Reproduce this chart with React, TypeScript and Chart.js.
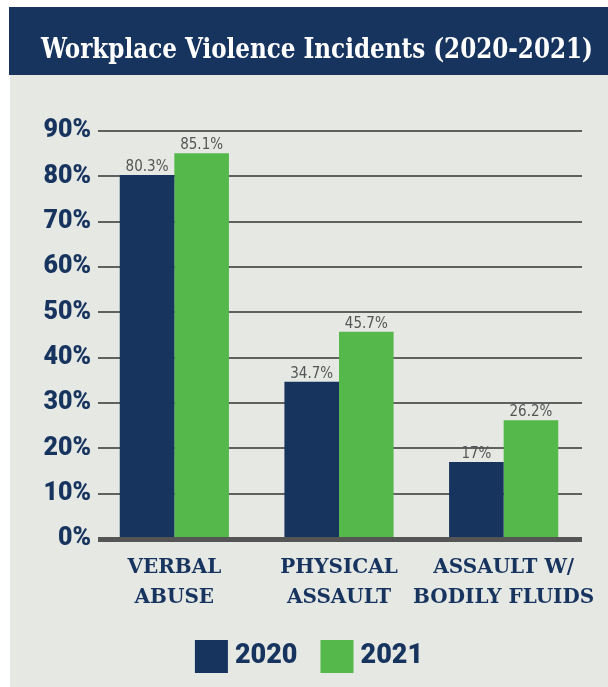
import { useEffect, useRef } from 'react';
import { Chart, registerables } from 'chart.js';

Chart.register(...registerables);

const titleText = 'Workplace Violence Incidents (2020-2021)';
const categories = [
  ['VERBAL', 'ABUSE'],
  ['PHYSICAL', 'ASSAULT'],
  ['ASSAULT W/', 'BODILY FLUIDS'],
];
const seriesNames = ['2020', '2021'];
const values2020 = [80.3, 34.7, 17];
const values2021 = [85.1, 45.7, 26.2];
const yMin = 0;
const yMax = 90;
const yStep = 10;

const NAVY = '#17345f';
const GREEN = '#55b84a';
const PANEL = '#e6e8e4';
const GRID = '#606060';

const decorPlugin = {
  id: 'decor',
  beforeDraw(chart: any) {
    const ctx = chart.ctx;
    ctx.save();
    ctx.fillStyle = '#ffffff';
    ctx.fillRect(0, 0, chart.width, chart.height);
    ctx.fillStyle = NAVY;
    ctx.fillRect(9, 7, chart.width - 9, 68);
    ctx.fillStyle = PANEL;
    ctx.fillRect(10, 75, chart.width - 10, chart.height - 75);
    ctx.fillStyle = '#ffffff';
    ctx.font = 'bold 27px "DejaVu Serif Condensed", "DejaVu Serif", serif';
    ctx.textAlign = 'center';
    ctx.textBaseline = 'alphabetic';
    const w = ctx.measureText(titleText).width;
    const target = 552;
    const sx = w > target ? target / w : 1;
    ctx.translate(317, 58);
    ctx.scale(sx, 1);
    ctx.fillText(titleText, 0, 0);
    ctx.restore();
  },
  beforeDatasetsDraw(chart: any) {
    const ctx = chart.ctx;
    const y = chart.scales.y;
    ctx.save();
    ctx.strokeStyle = GRID;
    ctx.lineWidth = 2;
    y.ticks.forEach((t: any) => {
      if (t.value === 0) return;
      const py = Math.round(y.getPixelForValue(t.value));
      ctx.beginPath();
      ctx.moveTo(98, py);
      ctx.lineTo(582, py);
      ctx.stroke();
    });
    ctx.restore();
  },
  afterDatasetsDraw(chart: any) {
    const ctx = chart.ctx;
    const y = chart.scales.y;
    ctx.save();
    // baseline
    ctx.strokeStyle = '#555555';
    ctx.lineWidth = 5;
    const py = y.getPixelForValue(0) + 0.5;
    ctx.beginPath();
    ctx.moveTo(98, py);
    ctx.lineTo(582, py);
    ctx.stroke();
    // value labels
    ctx.fillStyle = '#555555';
    ctx.font = '15px "Liberation Sans Narrow", "DejaVu Sans Condensed", sans-serif';
    ctx.textAlign = 'center';
    ctx.textBaseline = 'alphabetic';
    chart.data.datasets.forEach((ds: any, di: number) => {
      const meta = chart.getDatasetMeta(di);
      meta.data.forEach((bar: any, i: number) => {
        ctx.fillText(String(ds.data[i]) + '%', bar.x, bar.y - 4);
      });
    });
    // legend
    ctx.font = '900 27px Roboto, sans-serif';
    ctx.textBaseline = 'middle';
    ctx.textAlign = 'left';
    const box = 33;
    const gap = 7;
    const between = 23;
    const items = chart.data.datasets.map((ds: any) => ({
      label: ds.label,
      color: ds.backgroundColor,
      w: ctx.measureText(ds.label).width,
    }));
    let total = 0;
    items.forEach((it: any, i: number) => {
      total += box + gap + it.w + (i > 0 ? between : 0);
    });
    let x = 309 - total / 2;
    items.forEach((it: any) => {
      ctx.fillStyle = it.color;
      ctx.fillRect(x, 640, box, box);
      ctx.fillStyle = NAVY;
      ctx.fillText(it.label, x + box + gap, 656);
      x += box + gap + it.w + between;
    });
    ctx.restore();
  },
};

export default function App() {
  const ref = useRef<HTMLCanvasElement | null>(null);
  useEffect(() => {
    document.body.style.margin = '0';
    const canvas = ref.current;
    if (!canvas) return;
    const chart = new Chart(canvas, {
      type: 'bar',
      data: {
        labels: categories,
        datasets: [
          {
            label: seriesNames[0],
            data: values2020,
            backgroundColor: NAVY,
            barPercentage: 1,
            categoryPercentage: 0.663,
          },
          {
            label: seriesNames[1],
            data: values2021,
            backgroundColor: GREEN,
            barPercentage: 1,
            categoryPercentage: 0.663,
          },
        ],
      },
      options: {
        responsive: false,
        devicePixelRatio: 1,
        animation: false,
        layout: { padding: { top: 131, right: 22, left: 0, bottom: 0 } },
        plugins: {
          legend: { display: false },
          tooltip: { enabled: false },
        },
        scales: {
          x: {
            grid: { display: false, drawTicks: false },
            border: { display: false },
            ticks: {
              color: NAVY,
              font: { family: '"DejaVu Serif", serif', weight: 'bold', size: 20, lineHeight: 30 / 20 },
              padding: 14,
              maxRotation: 0,
              autoSkip: false,
            },
            afterFit: (s: any) => {
              s.height = 148;
              s.paddingLeft = 0;
              s.paddingRight = 0;
            },
          },
          y: {
            min: yMin,
            max: yMax,
            grid: { display: false, drawTicks: false },
            border: { display: false },
            ticks: {
              stepSize: yStep,
              color: NAVY,
              font: { family: 'Roboto, sans-serif', weight: '900', size: 25 },
              padding: 1,
              callback: (v: any) => v + '%',
            },
            afterFit: (s: any) => {
              s.width = 92;
            },
          },
        },
      },
      plugins: [decorPlugin],
    });
    return () => chart.destroy();
  }, []);
  return <canvas ref={ref} width={608} height={687} style={{ display: 'block' }} />;
}
